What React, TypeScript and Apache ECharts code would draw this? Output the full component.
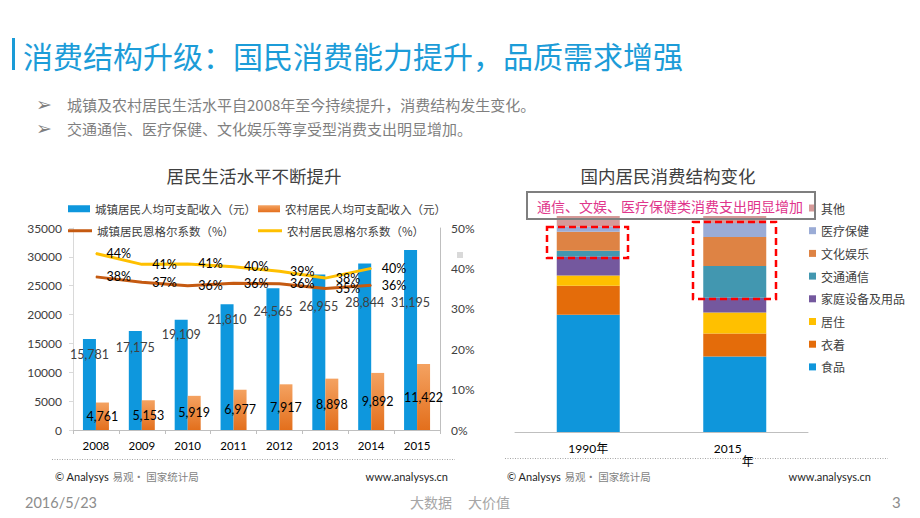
import React, { useEffect, useRef } from "react";
import * as echarts from "echarts";

const years = ["2008", "2009", "2010", "2011", "2012", "2013", "2014", "2015"];
const urbanIncome = [15781, 17175, 19109, 21810, 24565, 26955, 28844, 31195];
const ruralIncome = [4761, 5153, 5919, 6977, 7917, 8898, 9892, 11422];
const urbanEngel = [37.9, 36.6, 35.7, 36.3, 36.2, 35.0, 35.8];
const ruralEngel = [43.7, 41.0, 41.1, 40.4, 39.3, 37.6, 40.0];
const leftYTicks = { min: 0, max: 35000, interval: 5000 };
const rightYTicks = { min: 0, max: 50, interval: 10 };

const structYears = ["1990年", "2015年"];
const structCats = ["食品", "衣着", "居住", "家庭设备及用品", "交通通信", "文化娱乐", "医疗保健", "其他"];
const struct1990 = [54.3, 13.4, 4.7, 8.7, 2.8, 8.8, 2.3, 5.0];
const struct2015 = [35.0, 10.6, 9.7, 6.9, 14.7, 13.4, 6.5, 3.2];

const CJK = "'Noto Sans CJK SC', sans-serif";
const NUM = "Lato, 'Noto Sans CJK SC', sans-serif";

export default function App() {
  const ref = useRef<HTMLDivElement>(null);
  useEffect(() => {
    if (!ref.current) return;
    const chart = echarts.init(ref.current, null, { renderer: "svg" });
    const structColors = ["#0F96DB", "#E46C0A", "#FFC000", "#74589E", "#4297B0", "#DE8344", "#9BACD6", "#D69A99"];
    const urbanLabelDistance = [9, 10, 9, 9, 17, 26, 33, 46];

    const structSeries = structCats.map((c, i) => ({
      name: c,
      type: "bar",
      stack: "total",
      xAxisIndex: 1,
      yAxisIndex: 2,
      barWidth: 63,
      itemStyle: { color: structColors[i] },
      data: [struct1990[i], struct2015[i]],
    }));

    const legendBase = {
      padding: 0,
      selectedMode: false,
      icon: "rect",
      textStyle: { fontFamily: CJK, fontSize: 11.5, color: "#404040" },
    };

    const option: any = {
      animation: false,
      backgroundColor: "#ffffff",
      grid: [
        { left: 73, right: 480, top: 228, bottom: 88 },
        { left: 515, right: 112, top: 216, bottom: 86 },
      ],
      xAxis: [
        {
          type: "category",
          gridIndex: 0,
          data: years,
          axisLine: { lineStyle: { color: "#BFBFBF" } },
          axisTick: { show: true, length: 4, lineStyle: { color: "#BFBFBF" } },
          axisLabel: { color: "#000", fontSize: 11.5, fontFamily: NUM, margin: 10 },
        },
        {
          type: "category",
          gridIndex: 1,
          data: structYears,
          axisLine: { lineStyle: { color: "#BFBFBF" } },
          axisTick: { show: false },
          axisLabel: {
            color: "#000",
            fontSize: 12,
            fontFamily: NUM,
            margin: 10,
            formatter: (v: string) => (v === "2015年" ? "{a|2015}\n{b|年}" : v),
            rich: {
              a: { fontSize: 12, fontFamily: NUM, color: "#000", padding: [0, 14, 0, 0] },
              b: { fontSize: 12, fontFamily: CJK, color: "#000", padding: [0, 0, 0, 26] },
            },
          },
        },
      ],
      yAxis: [
        {
          type: "value",
          gridIndex: 0,
          ...leftYTicks,
          axisLine: { show: true, lineStyle: { color: "#D9D9D9" } },
          axisTick: { show: true, length: 4, lineStyle: { color: "#D9D9D9" } },
          splitLine: { show: false },
          axisLabel: { color: "#404040", fontSize: 12, fontFamily: NUM, margin: 11, formatter: (v: number) => String(v) },
        },
        {
          type: "value",
          gridIndex: 0,
          position: "right",
          ...rightYTicks,
          axisLine: { show: true, lineStyle: { color: "#BFBFBF" } },
          axisTick: { show: false },
          splitLine: { show: false },
          axisLabel: { color: "#404040", fontSize: 12, fontFamily: NUM, margin: 11, formatter: "{value}%" },
        },
        { type: "value", gridIndex: 1, min: 0, max: 100, show: false },
      ],
      legend: [
        { ...legendBase, left: 68, top: 203, itemWidth: 22, itemHeight: 7, data: ["城镇居民人均可支配收入（元）"] },
        { ...legendBase, left: 258, top: 203, itemWidth: 22, itemHeight: 7, data: ["农村居民人均可支配收入（元）"] },
        { ...legendBase, left: 68, top: 225, itemWidth: 24, itemHeight: 3, data: ["城镇居民恩格尔系数（%）"] },
        { ...legendBase, left: 258, top: 225, itemWidth: 24, itemHeight: 3, data: ["农村居民恩格尔系数（%）"] },
        {
          ...legendBase,
          orient: "vertical",
          left: 809,
          top: 201,
          itemWidth: 7,
          itemHeight: 7,
          itemGap: 8.7,
          textStyle: { fontFamily: CJK, fontSize: 12, color: "#404040", lineHeight: 14 },
          data: [...structCats].reverse(),
        },
      ],
      series: [
        {
          name: "城镇居民人均可支配收入（元）",
          type: "bar",
          xAxisIndex: 0,
          yAxisIndex: 0,
          barWidth: 13,
          barGap: "0%",
          itemStyle: { color: "#0E97DD" },
          label: {
            show: true,
            position: "insideTop",
            color: "#404040",
            fontSize: 12.5,
            fontFamily: NUM,
            formatter: (p: any) => Number(p.value).toLocaleString("en-US"),
          },
          data: urbanIncome.map((v, i) => ({ value: v, label: { distance: urbanLabelDistance[i] } })),
        },
        {
          name: "农村居民人均可支配收入（元）",
          type: "bar",
          xAxisIndex: 0,
          yAxisIndex: 0,
          barWidth: 13,
          barGap: "0%",
          itemStyle: {
            color: new echarts.graphic.LinearGradient(0, 0, 0, 1, [
              { offset: 0, color: "#F4A261" },
              { offset: 1, color: "#E36F1C" },
            ]),
          },
          label: {
            show: true,
            position: "inside",
            color: "#000",
            fontSize: 12.5,
            fontFamily: NUM,
            formatter: (p: any) => Number(p.value).toLocaleString("en-US"),
          },
          data: ruralIncome,
        },
        {
          name: "城镇居民恩格尔系数（%）",
          type: "line",
          xAxisIndex: 0,
          yAxisIndex: 1,
          symbol: "circle",
          symbolSize: 1,
          showSymbol: true,
          z: 5,
          lineStyle: { color: "#C55A11", width: 3 },
          itemStyle: { color: "#C55A11" },
          label: {
            show: true,
            position: "right",
            distance: 10,
            color: "#000",
            fontSize: 12.5,
            fontFamily: NUM,
            formatter: (p: any) => Math.round(p.value) + "%",
          },
          data: urbanEngel,
        },
        {
          name: "农村居民恩格尔系数（%）",
          type: "line",
          xAxisIndex: 0,
          yAxisIndex: 1,
          symbol: "circle",
          symbolSize: 1,
          showSymbol: true,
          z: 5,
          lineStyle: { color: "#FFC000", width: 3 },
          itemStyle: { color: "#FFC000" },
          label: {
            show: true,
            position: "right",
            distance: 10,
            color: "#000",
            fontSize: 12.5,
            fontFamily: NUM,
            formatter: (p: any) => Math.round(p.value) + "%",
          },
          data: ruralEngel,
        },
        ...structSeries,
      ],
      graphic: [
        { type: "rect", shape: { x: 12, y: 38, width: 3, height: 32 }, style: { fill: "#1A9BD7" } },
        {
          type: "text",
          x: 23,
          y: 55,
          style: {
            text: "消费结构升级：国民消费能力提升，品质需求增强",
            fontSize: 30,
            fontFamily: CJK,
            fill: "#1C9CD8",
            verticalAlign: "middle",
          },
        },
        { type: "text", x: 36, y: 104, style: { text: "➢", fontSize: 19, fontFamily: "'DejaVu Sans'", fill: "#7F7F7F", verticalAlign: "middle" } },
        { type: "text", x: 36, y: 128, style: { text: "➢", fontSize: 19, fontFamily: "'DejaVu Sans'", fill: "#7F7F7F", verticalAlign: "middle" } },
        {
          type: "text",
          x: 67,
          y: 104,
          style: { text: "城镇及农村居民生活水平自2008年至今持续提升，消费结构发生变化。", fontSize: 15, fontFamily: CJK, fill: "#7F7F7F", verticalAlign: "middle" },
        },
        {
          type: "text",
          x: 67,
          y: 128,
          style: { text: "交通通信、医疗保健、文化娱乐等享受型消费支出明显增加。", fontSize: 15, fontFamily: CJK, fill: "#7F7F7F", verticalAlign: "middle" },
        },
        {
          type: "text",
          x: 254,
          y: 175,
          style: { text: "居民生活水平不断提升", fontSize: 17.5, fontFamily: CJK, fill: "#404040", align: "center", verticalAlign: "middle" },
        },
        {
          type: "text",
          x: 668,
          y: 175,
          style: { text: "国内居民消费结构变化", fontSize: 17.5, fontFamily: CJK, fill: "#404040", align: "center", verticalAlign: "middle" },
        },
        { type: "rect", shape: { x: 457, y: 252, width: 6, height: 6 }, style: { fill: "#D9D9D9" } },
        {
          type: "rect",
          z: 10,
          shape: { x: 527, y: 192, width: 288, height: 27 },
          style: { fill: "none", stroke: "#7F7F7F", lineWidth: 2 },
        },
        {
          type: "text",
          z: 10,
          x: 670,
          y: 206,
          style: { text: "通信、文娱、医疗保健类消费支出明显增加", fontSize: 14, fontFamily: CJK, fill: "#E0358C", align: "center", verticalAlign: "middle" },
        },
        {
          type: "rect",
          z: 10,
          shape: { x: 547, y: 227, width: 81, height: 31 },
          style: { fill: "none", stroke: "#FF0000", lineWidth: 2.5, lineDash: [7, 4] },
        },
        {
          type: "rect",
          z: 10,
          shape: { x: 693, y: 222, width: 83, height: 77 },
          style: { fill: "none", stroke: "#FF0000", lineWidth: 2.5, lineDash: [7, 4] },
        },
        { type: "line", shape: { x1: 52, y1: 459.5, x2: 455, y2: 459.5 }, style: { stroke: "#A6A6A6", lineWidth: 1, lineDash: [1, 1.5] } },
        { type: "line", shape: { x1: 505, y1: 458.5, x2: 888, y2: 458.5 }, style: { stroke: "#A6A6A6", lineWidth: 1, lineDash: [1, 1.5] } },
        {
          type: "text",
          x: 55,
          y: 476,
          style: {
            text: "{a|© Analysys} {b|易观· 国家统计局}",
            verticalAlign: "middle",
            rich: {
              a: { fontSize: 11, fontFamily: NUM, fill: "#262626" },
              b: { fontSize: 10.5, fontFamily: CJK, fill: "#7F7F7F" },
            },
          },
        },
        {
          type: "text",
          x: 448,
          y: 476,
          style: { text: "www.analysys.cn", fontSize: 11, fontFamily: NUM, fill: "#262626", align: "right", verticalAlign: "middle" },
        },
        {
          type: "text",
          x: 507,
          y: 476,
          style: {
            text: "{a|© Analysys} {b|易观· 国家统计局}",
            verticalAlign: "middle",
            rich: {
              a: { fontSize: 11, fontFamily: NUM, fill: "#262626" },
              b: { fontSize: 10.5, fontFamily: CJK, fill: "#7F7F7F" },
            },
          },
        },
        {
          type: "text",
          x: 871,
          y: 476,
          style: { text: "www.analysys.cn", fontSize: 11, fontFamily: NUM, fill: "#262626", align: "right", verticalAlign: "middle" },
        },
        { type: "text", x: 25, y: 502, style: { text: "2016/5/23", fontSize: 14.5, fontFamily: NUM, fill: "#8C8C8C", verticalAlign: "middle" } },
        { type: "text", x: 410, y: 502, style: { text: "大数据", fontSize: 14, fontFamily: CJK, fill: "#A6A6A6", verticalAlign: "middle" } },
        { type: "text", x: 468, y: 502, style: { text: "大价值", fontSize: 14, fontFamily: CJK, fill: "#A6A6A6", verticalAlign: "middle" } },
        { type: "text", x: 892, y: 502, style: { text: "3", fontSize: 15, fontFamily: NUM, fill: "#8C8C8C", verticalAlign: "middle" } },
      ],
    };
    chart.setOption(option);
    return () => chart.dispose();
  }, []);
  return <div ref={ref} style={{ position: "fixed", left: 0, top: 0, width: 920, height: 518 }} />;
}
